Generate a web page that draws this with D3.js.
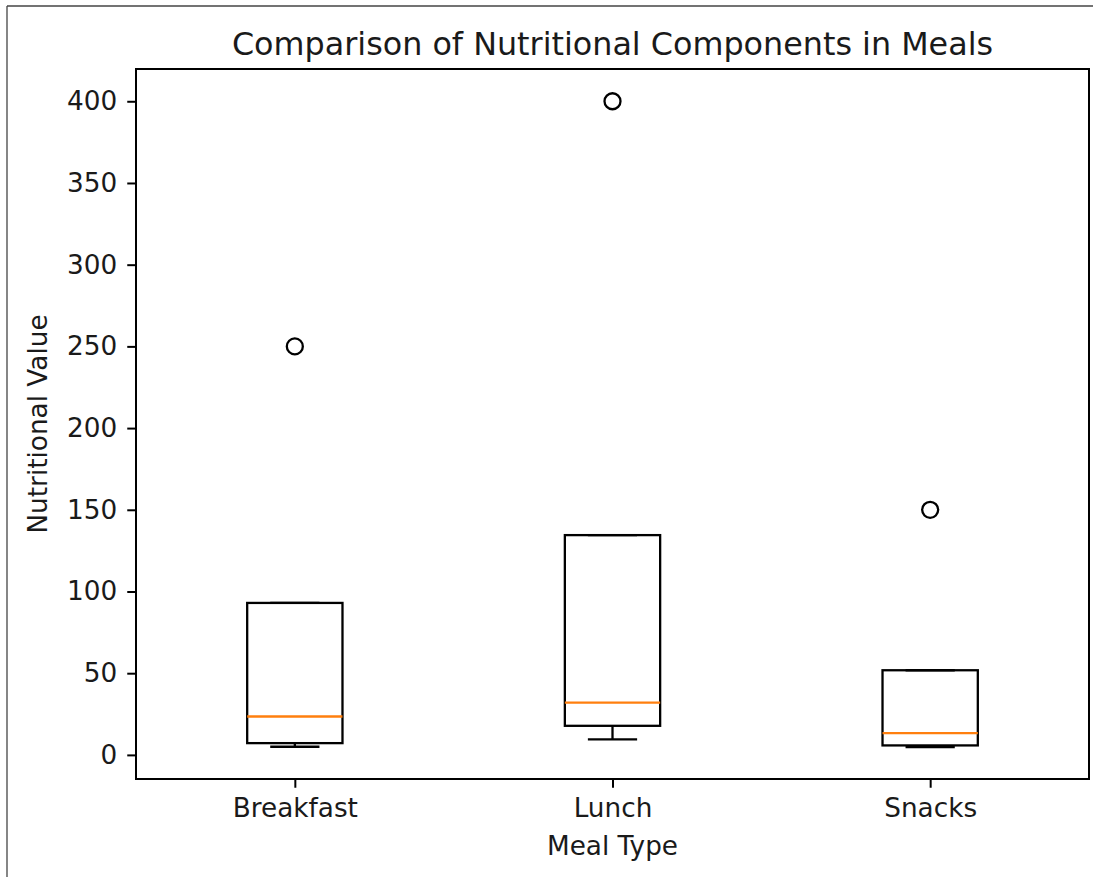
<!DOCTYPE html>
<html>
<head>
<meta charset="utf-8">
<script src="https://cdn.jsdelivr.net/npm/d3@7"></script>
<style>
  html, body { margin: 0; padding: 0; background: #fff; }
  svg { display: block; font-family: "DejaVu Sans", sans-serif; }
</style>
</head>
<body>
<svg id="chart" width="1093" height="877"></svg>
<script>
// ---- data ----
const categories  = ["Breakfast", "Lunch", "Snacks"];
const whiskerLow  = [5, 9.5, 4.8];
const q1          = [7.2, 17.8, 5.8];
const median      = [23.5, 32, 13.3];
const q3          = [93, 134.5, 51.8];
const whiskerHigh = [93, 134.5, 51.8];
const outliers    = [[250], [400], [150]];
const yTicks      = [0, 50, 100, 150, 200, 250, 300, 350, 400];

const title  = "Comparison of Nutritional Components in Meals";
const xLabel = "Meal Type";
const yLabel = "Nutritional Value";

// ---- layout ----
const W = 1093, H = 877;
const mLeft = 136, mRight = 1089, mTop = 69, mBottom = 779;
const tickFont = 26.3;
const boxWidth = 0.3, capWidth = 0.155;
const textColor = "#1a1a1a";

const svg = d3.select("#chart");

// outer frame (top + left edges as in the reference)
svg.append("line").attr("x1", 7).attr("y1", 6).attr("x2", W).attr("y2", 6)
  .attr("stroke", "#444").attr("stroke-width", 1.3);
svg.append("line").attr("x1", 7).attr("y1", 6).attr("x2", 7).attr("y2", H)
  .attr("stroke", "#444").attr("stroke-width", 1.3);

const positions = categories.map((c, i) => i + 1);
const x = d3.scaleLinear().domain([0.5, 3.5]).range([mLeft, mRight]);
const y = d3.scaleLinear().domain([-14.75, 419.75]).range([mBottom, mTop]);

const data = categories.map((c, i) => ({
  name: c, pos: positions[i],
  lo: whiskerLow[i], q1: q1[i], med: median[i], q3: q3[i], hi: whiskerHigh[i],
  out: outliers[i]
}));

const g = svg.append("g");
const bw = x(1 + boxWidth / 2) - x(1 - boxWidth / 2);
const cw = x(1 + capWidth / 2) - x(1 - capWidth / 2);

const lw = 2.3;
data.forEach(d => {
  const cx = x(d.pos);
  g.append("line").attr("x1", cx).attr("x2", cx).attr("y1", y(d.q1)).attr("y2", y(d.lo))
    .attr("stroke", "#000").attr("stroke-width", lw);
  g.append("line").attr("x1", cx).attr("x2", cx).attr("y1", y(d.q3)).attr("y2", y(d.hi))
    .attr("stroke", "#000").attr("stroke-width", lw);
  [d.lo, d.hi].forEach(v => {
    g.append("line").attr("x1", cx - cw / 2).attr("x2", cx + cw / 2)
      .attr("y1", y(v)).attr("y2", y(v))
      .attr("stroke", "#000").attr("stroke-width", lw);
  });
  g.append("rect").attr("x", cx - bw / 2).attr("width", bw)
    .attr("y", y(d.q3)).attr("height", y(d.q1) - y(d.q3))
    .attr("fill", "none").attr("stroke", "#000").attr("stroke-width", lw);
  g.append("line").attr("x1", cx - bw / 2).attr("x2", cx + bw / 2)
    .attr("y1", y(d.med)).attr("y2", y(d.med))
    .attr("stroke", "#ff7f0e").attr("stroke-width", lw);
  d.out.forEach(v => {
    g.append("circle").attr("cx", cx).attr("cy", y(v)).attr("r", 8)
      .attr("fill", "none").attr("stroke", "#000").attr("stroke-width", 2.3);
  });
});

// axes
const yAxis = d3.axisLeft(y).tickValues(yTicks).tickSize(8.75).tickPadding(10)
  .tickFormat(d3.format("d"));
const xAxis = d3.axisBottom(x).tickValues(positions).tickSize(8.75).tickPadding(11)
  .tickFormat((d, i) => categories[i]);

const ya = svg.append("g").attr("transform", `translate(${mLeft},0)`).call(yAxis);
const xa = svg.append("g").attr("transform", `translate(0,${mBottom})`).call(xAxis);
[ya, xa].forEach(a => {
  a.select(".domain").remove();
  a.selectAll(".tick line").attr("stroke", "#000").attr("stroke-width", 2);
  a.selectAll(".tick text").attr("fill", textColor)
    .style("font-family", "DejaVu Sans").style("font-size", tickFont + "px");
});

// axes frame
svg.append("rect").attr("x", mLeft).attr("y", mTop)
  .attr("width", mRight - mLeft).attr("height", mBottom - mTop)
  .attr("fill", "none").attr("stroke", "#000").attr("stroke-width", 2);

// title and labels
svg.append("text").attr("x", (mLeft + mRight) / 2).attr("y", 55)
  .attr("text-anchor", "middle").style("font-size", "31.8px").attr("fill", textColor)
  .text(title);
svg.append("text").attr("x", (mLeft + mRight) / 2).attr("y", 855)
  .attr("text-anchor", "middle").style("font-size", tickFont + "px").attr("fill", textColor)
  .text(xLabel);
svg.append("text")
  .attr("transform", `translate(47,${(mTop + mBottom) / 2}) rotate(-90)`)
  .attr("text-anchor", "middle").style("font-size", tickFont + "px").attr("fill", textColor)
  .text(yLabel);
</script>
</body>
</html>
